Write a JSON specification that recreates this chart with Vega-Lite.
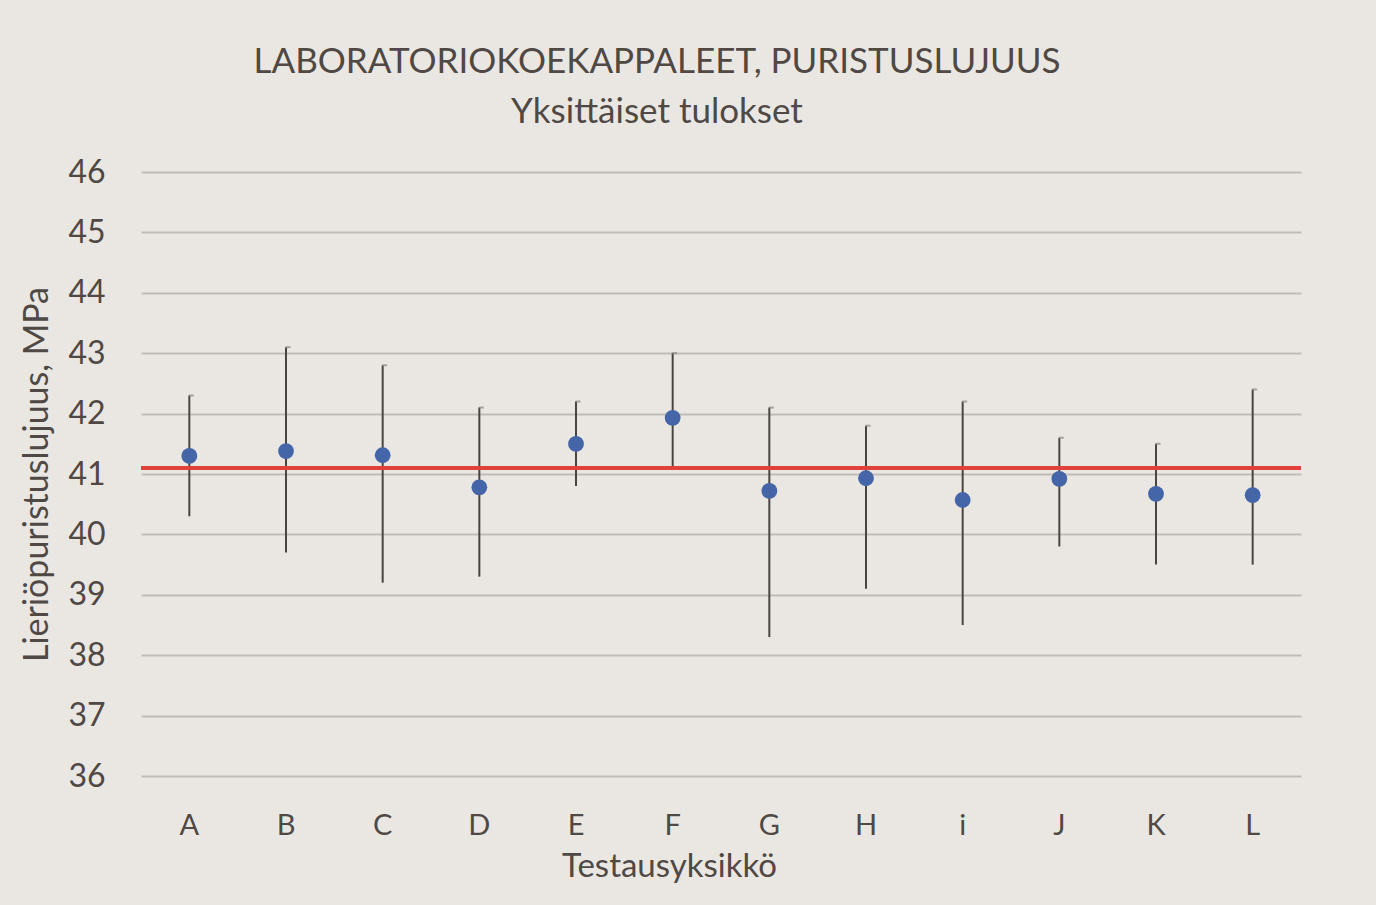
{
  "$schema": "https://vega.github.io/schema/vega-lite/v6.json",
  "autosize": "none",
  "width": 1160,
  "height": 604,
  "padding": {"left": 141, "top": 172, "right": 75, "bottom": 129},
  "background": "#EAE7E2",
  "title": {
    "text": ["LABORATORIOKOEKAPPALEET, PURISTUSLUJUUS", "Yksittäiset tulokset"],
    "font": "Lato",
    "fontSize": 35,
    "fontWeight": "normal",
    "color": "#4F4844",
    "lineHeight": 50,
    "anchor": "middle",
    "dx": -64,
    "offset": 26
  },
  "data": {
    "values": [
      {"unit": "A", "value": 41.30, "low": 40.3, "high": 42.3},
      {"unit": "B", "value": 41.38, "low": 39.7, "high": 43.1},
      {"unit": "C", "value": 41.31, "low": 39.2, "high": 42.8},
      {"unit": "D", "value": 40.78, "low": 39.3, "high": 42.1},
      {"unit": "E", "value": 41.50, "low": 40.8, "high": 42.2},
      {"unit": "F", "value": 41.93, "low": 41.1, "high": 43.0},
      {"unit": "G", "value": 40.72, "low": 38.3, "high": 42.1},
      {"unit": "H", "value": 40.93, "low": 39.1, "high": 41.8},
      {"unit": "i", "value": 40.57, "low": 38.5, "high": 42.2},
      {"unit": "J", "value": 40.92, "low": 39.8, "high": 41.6},
      {"unit": "K", "value": 40.67, "low": 39.5, "high": 41.5},
      {"unit": "L", "value": 40.65, "low": 39.5, "high": 42.4}
    ]
  },
  "layer": [
    {
      "mark": {"type": "rule", "color": "#4A4440", "strokeWidth": 2},
      "encoding": {
        "x": {
          "field": "unit",
          "type": "nominal",
          "sort": null,
          "title": "Testausyksikkö",
          "scale": {"paddingInner": 0, "paddingOuter": 0},
          "axis": {
            "labelAngle": 0,
            "domain": false,
            "ticks": false,
            "labelPadding": 35,
            "titlePadding": 10,
            "titleX": 528,
            "titleAlign": "center",
            "labelFont": "Lato",
            "labelFontSize": 29,
            "labelColor": "#4F4844",
            "titleFont": "Lato",
            "titleFontSize": 33,
            "titleFontWeight": "normal",
            "titleColor": "#4F4844"
          }
        },
        "y": {
          "field": "low",
          "type": "quantitative",
          "scale": {"domain": [36, 46], "nice": false, "zero": false},
          "title": "Lieriöpuristuslujuus, MPa",
          "axis": {
            "values": [36, 37, 38, 39, 40, 41, 42, 43, 44, 45, 46],
            "format": "d",
            "domain": false,
            "ticks": false,
            "labelPadding": 36,
            "titlePadding": 13,
            "gridColor": "#BFBBB6",
            "gridWidth": 2,
            "labelFont": "Lato",
            "labelFontSize": 32,
            "labelColor": "#4F4844",
            "titleFont": "Lato",
            "titleFontSize": 34,
            "titleFontWeight": "normal",
            "titleColor": "#4F4844"
          }
        },
        "y2": {"field": "high"}
      }
    },
    {
      "mark": {"type": "tick", "orient": "horizontal", "color": "#8A8580", "size": 5, "thickness": 2, "xOffset": 2},
      "encoding": {
        "x": {"field": "unit", "type": "nominal", "sort": null},
        "y": {"field": "high", "type": "quantitative"}
      }
    },
    {
      "mark": {"type": "rule", "color": "#E0413A", "strokeWidth": 3},
      "encoding": {"y": {"datum": 41.1, "type": "quantitative"}}
    },
    {
      "mark": {"type": "point", "filled": true, "shape": "circle", "color": "#4466A9", "opacity": 1, "size": 250},
      "encoding": {
        "x": {"field": "unit", "type": "nominal", "sort": null},
        "y": {"field": "value", "type": "quantitative"}
      }
    }
  ],
  "config": {
    "view": {"stroke": null}
  }
}
